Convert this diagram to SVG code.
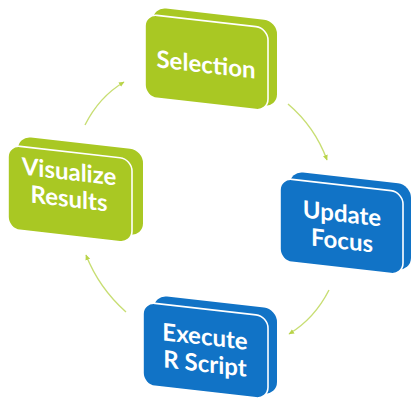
<svg xmlns="http://www.w3.org/2000/svg" width="412" height="401" viewBox="0 0 412 401">
<defs>
<style>
.g{fill:#a9c823}
.b{fill:#1173c6}
.front{stroke:#ffffff;stroke-width:1.6}
.t{font-family:Lato,"Open Sans","Liberation Sans",sans-serif;font-weight:700;font-size:24px;fill:#ffffff;text-anchor:middle}
.c{fill:none;stroke:#c8de73;stroke-width:1.4;marker-end:url(#ah)}
</style>
<marker id="ah" markerUnits="userSpaceOnUse" markerWidth="6" markerHeight="6" refX="5" refY="3" orient="auto">
<path d="M0,0.5 L5.5,3 L0,5.5 z" fill="#b9d44a"/>
</marker>
</defs>
<rect width="412" height="401" fill="#ffffff"/>
<g id="connectors">
<path class="c" d="M85,125 Q99,97 124,82"/>
<path class="c" d="M288,104 Q315,127 327,160"/>
<path class="c" d="M329,290 Q314.5,318.6 289,334"/>
<path class="c" d="M126,312 Q99,288 86,255"/>
</g>
<g id="selection">
<rect class="g" transform="translate(153,7) skewY(6.5)" width="124" height="86" rx="13"/>
<rect class="g front" transform="translate(145,14) skewY(6.5)" width="123" height="83" rx="12"/>
<text class="t" transform="translate(206,73) skewY(6.5)">Selection</text>
</g>
<g id="update-focus">
<rect class="b" transform="translate(290,171) skewY(6.5)" width="121" height="86" rx="13"/>
<rect class="b front" transform="translate(280,178) skewY(6.5)" width="123" height="83" rx="12"/>
<text class="t" transform="translate(342,222) skewY(6.5)">Update</text>
<text class="t" transform="translate(342,249) skewY(6.5)">Focus</text>
</g>
<g id="execute-r-script">
<rect class="b" transform="translate(154,295) skewY(6.5)" width="123" height="86" rx="13"/>
<rect class="b front" transform="translate(143,302) skewY(6.5)" width="125" height="83" rx="12"/>
<text class="t" transform="translate(205,345) skewY(6.5)">Execute</text>
<text class="t" transform="translate(205,372) skewY(6.5)">R Script</text>
</g>
<g id="visualize-results">
<rect class="g" transform="translate(18,136) skewY(6.5)" width="125" height="86" rx="13"/>
<rect class="g front" transform="translate(8,145) skewY(6.5)" width="124" height="84" rx="12"/>
<text class="t" transform="translate(69,180) skewY(6.5)">Visualize</text>
<text class="t" transform="translate(69,207) skewY(6.5)">Results</text>
</g>
</svg>
